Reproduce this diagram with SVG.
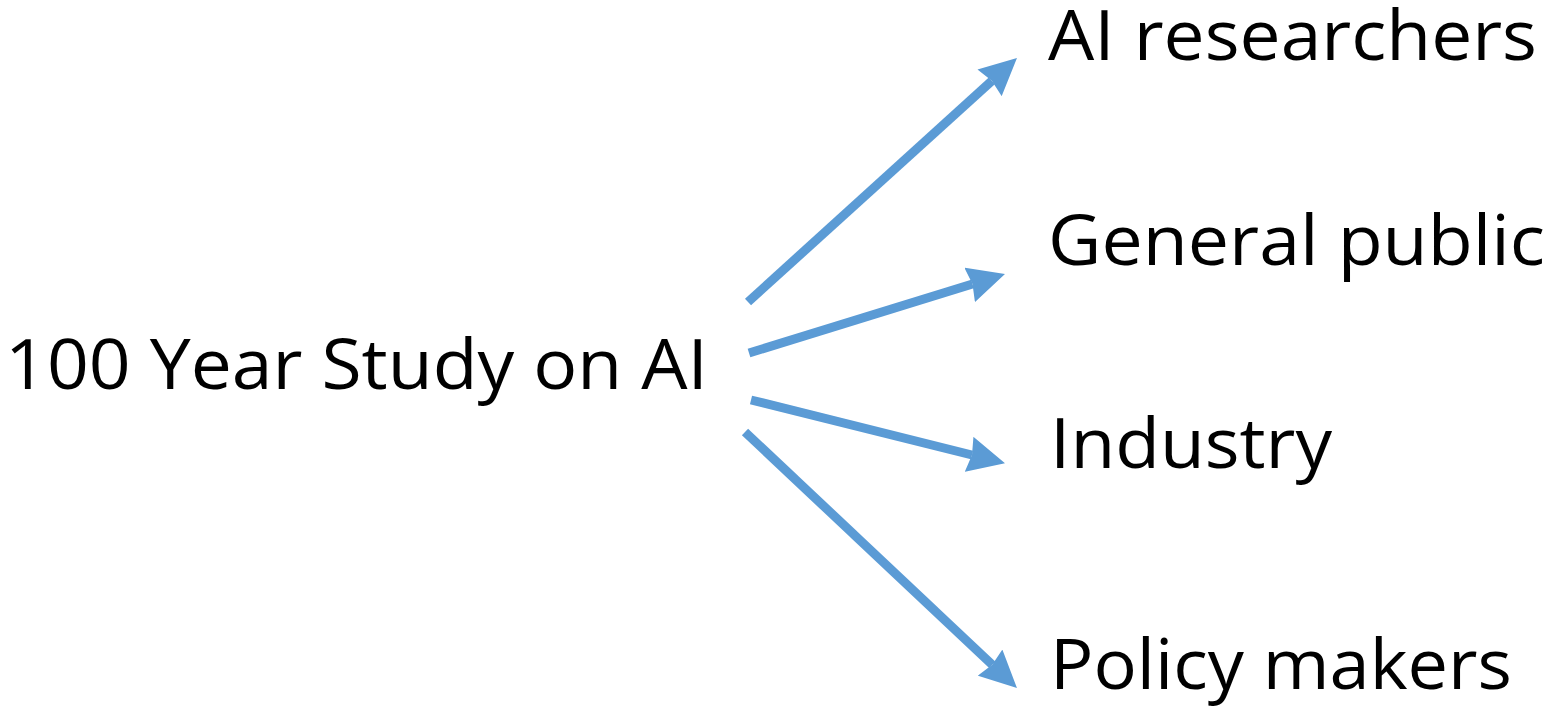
<svg xmlns="http://www.w3.org/2000/svg" width="1547" height="706" viewBox="0 0 1547 706">
<style>
.lbl{font-family:"Open Sans","Liberation Sans",sans-serif;font-size:69px;fill:#000}
.arr{stroke:#5B9BD5;stroke-width:9;fill:none;marker-end:url(#head)}
</style>
<defs>
<marker id="head" markerUnits="userSpaceOnUse" viewBox="0 0 37 36" markerWidth="37" markerHeight="36" refX="3" refY="18" orient="auto">
<path d="M0,0 L37,18 L0,36 L3,18 z" fill="#5B9BD5"/>
</marker>
</defs>
<rect width="1547" height="706" fill="#fff"/>
<g id="connectors">
<line class="arr" x1="748" y1="302" x2="991.8" y2="80.8"/>
<line class="arr" x1="749" y1="353" x2="972.5" y2="284"/>
<line class="arr" x1="751" y1="400" x2="972" y2="455"/>
<line class="arr" x1="745" y1="432" x2="992.2" y2="664.7"/>
</g>
<g id="source"><text class="lbl" x="5" y="389" textLength="703" lengthAdjust="spacingAndGlyphs">100 Year Study on AI</text></g>
<g id="ai-researchers"><text class="lbl" x="1048" y="60" textLength="489" lengthAdjust="spacingAndGlyphs">AI researchers</text></g>
<g id="general-public"><text class="lbl" x="1048" y="265" textLength="497" lengthAdjust="spacingAndGlyphs">General public</text></g>
<g id="industry"><text class="lbl" x="1050" y="468" textLength="282" lengthAdjust="spacingAndGlyphs">Industry</text></g>
<g id="policy-makers"><text class="lbl" x="1050" y="689" textLength="462" lengthAdjust="spacingAndGlyphs">Policy makers</text></g>
</svg>
